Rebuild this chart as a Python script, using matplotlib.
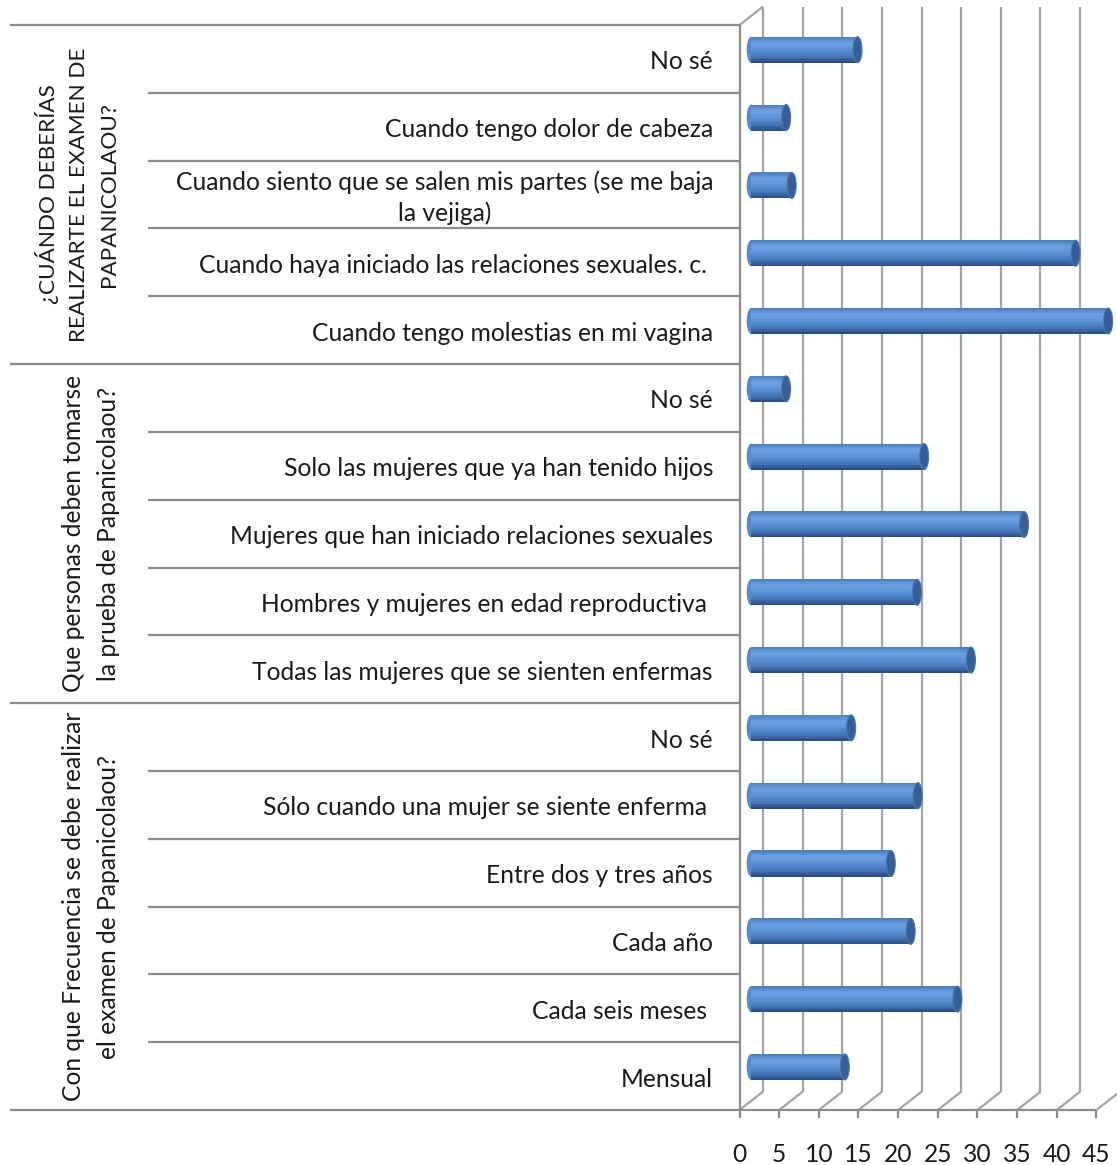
import matplotlib.pyplot as plt
from matplotlib.patches import Ellipse
from matplotlib.colors import LinearSegmentedColormap

plt.rcParams["font.family"] = ["Lato", "DejaVu Sans"]

GROUP_TITLES = [
    "¿CUÁNDO DEBERÍAS\nREALIZARTE EL EXAMEN DE\nPAPANICOLAOU?",
    "Que personas deben tomarse\nla prueba de Papanicolaou?",
    "Con que Frecuencia se debe realizar\nel examen de Papanicolaou?",
]

CUANDO_LABELS = [
    "No sé",
    "Cuando tengo dolor de cabeza",
    "Cuando siento que se salen mis partes (se me baja\nla vejiga)",
    "Cuando haya iniciado las relaciones sexuales. c. ",
    "Cuando tengo molestias en mi vagina",
]
CUANDO_VALUES = [13.4, 4.4, 5.1, 40.9, 45.0]

QUIEN_LABELS = [
    "No sé",
    "Solo las mujeres que ya han tenido hijos",
    "Mujeres que han iniciado relaciones sexuales",
    "Hombres y mujeres en edad reproductiva ",
    "Todas las mujeres que se sienten enfermas",
]
QUIEN_VALUES = [4.4, 21.8, 34.4, 20.9, 27.7]

FRECUENCIA_LABELS = [
    "No sé",
    "Sólo cuando una mujer se siente enferma ",
    "Entre dos y tres años",
    "Cada año",
    "Cada seis meses ",
    "Mensual",
]
FRECUENCIA_VALUES = [12.6, 21.0, 17.6, 20.1, 26.0, 11.8]

X_TICKS = [0, 5, 10, 15, 20, 25, 30, 35, 40, 45]

labels = CUANDO_LABELS + QUIEN_LABELS + FRECUENCIA_LABELS
values = CUANDO_VALUES + QUIEN_VALUES + FRECUENCIA_VALUES
group_sizes = [len(CUANDO_LABELS), len(QUIEN_LABELS), len(FRECUENCIA_LABELS)]
n_rows = len(labels)

# figure size in pixels and the front plane of the plot
W, H = 1117, 1165
X0, X1 = 739.5, 1096.4
Y0, Y1 = 25, 1110
XMAX = 45

px_x = (X1 - X0) / XMAX
px_y = (Y1 - Y0) / n_rows
# 3d depth of the back wall, in data units
DX = 23.4 / px_x
DY = 18.3 / px_y

GRID = "#a3a3a3"
EDGE = "#8c8c8c"
TEXT = "#1a1a1a"
FS = 17.7

fig = plt.figure(figsize=(W / 100, H / 100), dpi=100)
ax = fig.add_axes([X0 / W, 1 - Y1 / H, (X1 - X0) / W, (Y1 - Y0) / H])
ax.set_xlim(0, XMAX)
ax.set_ylim(n_rows, 0)
ax.axis("off")

line_kw = dict(clip_on=False, solid_capstyle="butt")

# back wall, floor and ticks
for v in X_TICKS:
    ax.plot([v + DX, v + DX], [n_rows - DY, -DY], color=GRID, lw=1.6, zorder=1, **line_kw)
    ax.plot([v, v + DX], [n_rows, n_rows - DY], color=GRID, lw=1.6, zorder=1, **line_kw)
    ax.plot([v, v], [n_rows, n_rows + 8 / px_y], color=EDGE, lw=1.6, zorder=1, **line_kw)
    ax.text(v, n_rows + 44 / px_y, str(v), ha="center", va="center",
            fontsize=FS, color=TEXT)

ax.plot([0, DX], [0, -DY], color=GRID, lw=1.6, zorder=1, **line_kw)
ax.plot([0, XMAX], [n_rows, n_rows], color=EDGE, lw=1.6, zorder=1, **line_kw)
ax.plot([0, 0], [0, n_rows], color=EDGE, lw=1.6, zorder=1, **line_kw)

# category separators on the left
long_left = (10 - X0) / px_x
short_left = (148 - X0) / px_x
group_edges = [0]
for s in group_sizes:
    group_edges.append(group_edges[-1] + s)
for r in range(n_rows + 1):
    left = long_left if r in group_edges else short_left
    ax.plot([left, 0], [r, r], color=EDGE, lw=1.6, zorder=1, **line_kw)

# group titles
title_px = [77, 91, 91]
title_fs = [16.2, FS, FS]
for title, tx, fs, a, b in zip(GROUP_TITLES, title_px, title_fs,
                               group_edges[:-1], group_edges[1:]):
    ax.text((tx - X0) / px_x, (a + b) / 2, title, rotation=90, ha="center", va="center",
            multialignment="center", fontsize=fs, color=TEXT, linespacing=1.65)

# category labels
label_x = -26.5 / px_x
label_dy = 3 / px_y
for i, lab in enumerate(labels):
    ax.text(label_x, i + 0.5 + label_dy, lab, ha="right", va="center",
            multialignment="center", fontsize=FS, color=TEXT, linespacing=1.4)

# cylinders
cyl = LinearSegmentedColormap.from_list(
    "cyl", [(0, "#4d80c0"), (0.22, "#6ca2e2"), (0.45, "#6097da"),
            (0.8, "#4274b5"), (1, "#2b4f82")])
bar_h = 26 / px_y
cap_w = 9 / px_x
n_strips = 16
for i, v in enumerate(values):
    yc = i + 0.5 - DY / 2
    ax.add_patch(Ellipse((DX / 2, yc), cap_w, bar_h, facecolor="#528acc",
                         edgecolor="none", zorder=3, clip_on=False))
    for k in range(n_strips):
        yk = yc - bar_h / 2 + (k + 0.5) * bar_h / n_strips
        ax.barh(yk, v, left=DX / 2, height=bar_h / n_strips * 1.05,
                color=cyl(k / (n_strips - 1)), lw=0, zorder=4, clip_on=False)
    ax.add_patch(Ellipse((DX / 2 + v, yc), cap_w, bar_h, facecolor="#375f95",
                         edgecolor="#4a78b3", lw=0.8, zorder=5, clip_on=False))

fig.savefig("out.png", dpi=100)
